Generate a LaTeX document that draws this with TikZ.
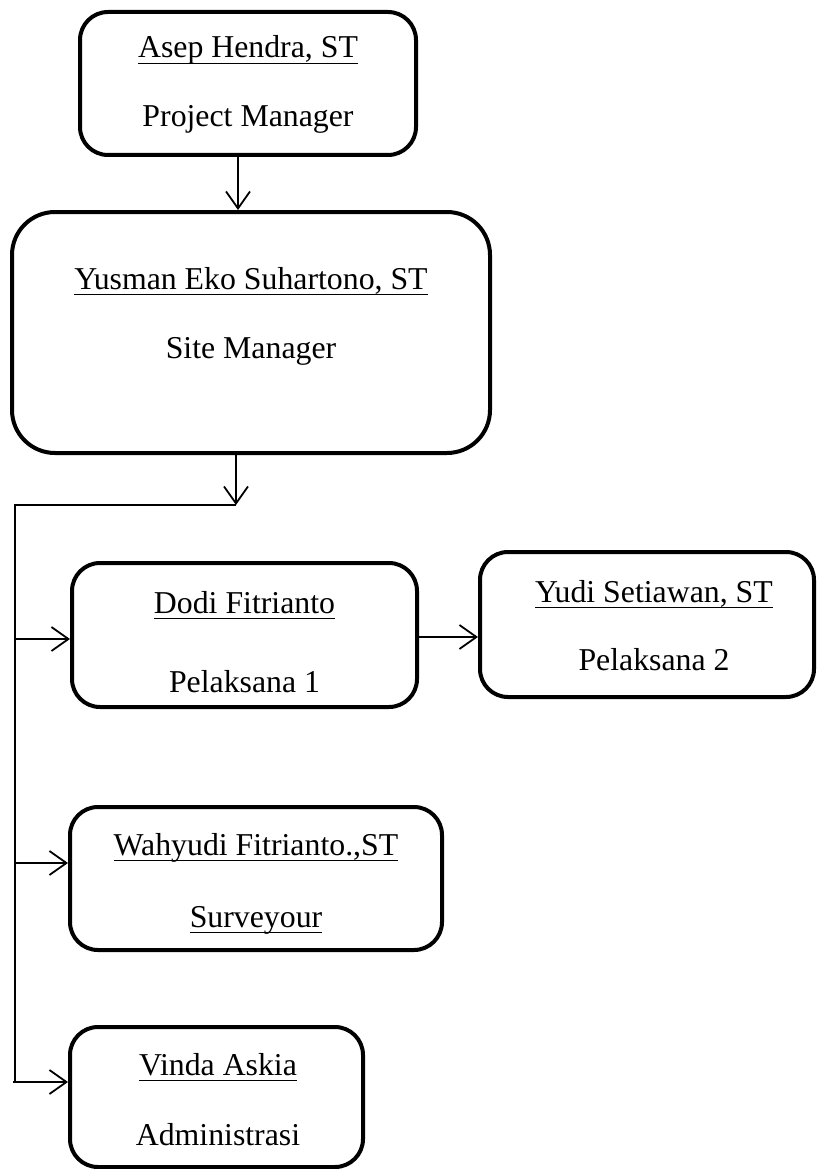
\documentclass[tikz,border=0pt]{standalone}
\usepackage{fontspec}
\setmainfont{Liberation Serif}
\usetikzlibrary{arrows.meta}
\begin{document}
\begin{tikzpicture}[x=1pt,y=-1pt,
  box/.style={draw, line width=4pt, rounded corners=28pt, inner sep=0pt},
  lbl/.style={inner sep=0pt, anchor=base, font=\fontsize{31.8}{38}\selectfont},
  ul/.style={line width=1.8pt},
  wire/.style={line width=1.8pt},
  conn/.style={line width=1.8pt, -{Straight Barb[length=17pt,width=24pt,line width=1.8pt]}}]
\useasboundingbox (0,0) rectangle (817,1169);

% boxes
\node[box, minimum width=336pt, minimum height=143pt] (pm) at (248,83.5) {};
\node[box, minimum width=478pt, minimum height=241pt, rounded corners=43pt] (sm) at (251,332.5) {};
\node[box, minimum width=345pt, minimum height=144pt] (dodi) at (244.5,635) {};
\node[box, minimum width=334pt, minimum height=145pt] (yudi) at (647,624.5) {};
\node[box, minimum width=372pt, minimum height=143pt] (wah) at (256,878.5) {};
\node[box, minimum width=293pt, minimum height=140pt] (vinda) at (216.5,1097) {};

% texts
\node[lbl] (t1a) at (248,58) {Asep Hendra, ST};
\node[lbl] (t1b) at (248,127) {Project Manager};
\node[lbl] (t2a) at (251,289) {Yusman Eko Suhartono, ST};
\node[lbl] (t2b) at (251,358) {Site Manager};
\node[lbl] (t3a) at (244.5,613) {Dodi Fitrianto};
\node[lbl] (t3b) at (244.5,692) {Pelaksana 1};
\node[lbl] (t4a) at (654,602) {Yudi Setiawan, ST};
\node[lbl] (t4b) at (654,670) {Pelaksana 2};
\node[lbl] (t5a) at (256,855) {Wahyudi Fitrianto.,ST};
\node[lbl] (t5b) at (256,927) {Surveyour};
\node[lbl] (t6a) at (218,1075) {Vinda Askia};
\node[lbl] (t6b) at (218,1145) {Administrasi};

% underlines
\foreach \t in {t1a,t2a,t3a,t4a,t5a,t5b,t6a}{
  \draw[ul] ([yshift=-5.5pt]\t.base west) -- ([yshift=-5.5pt]\t.base east);
}

% connectors
\coordinate (a1) at (238,0);
\coordinate (a2) at (236,0);
\coordinate (j) at (236,505);
\coordinate (c) at (15,505);
\coordinate (b1) at (15,639);
\coordinate (b2) at (15,863);
\coordinate (b3) at (15,1082);
\coordinate (h) at (0,637);

\draw[conn] (pm.south -| a1) -- (sm.north -| a1);
\draw[conn] (sm.south -| a2) -- (j);
\draw[wire] (j) -- (c) -- ([yshift=-0.9pt]b3);
\draw[conn] (b1) -- (b1 -| dodi.west);
\draw[conn] (b2) -- (b2 -| wah.west);
\draw[conn] ([xshift=-2pt]b3) -- (b3 -| vinda.west);
\draw[conn] (dodi.east |- h) -- (yudi.west |- h);
\end{tikzpicture}
\end{document}
